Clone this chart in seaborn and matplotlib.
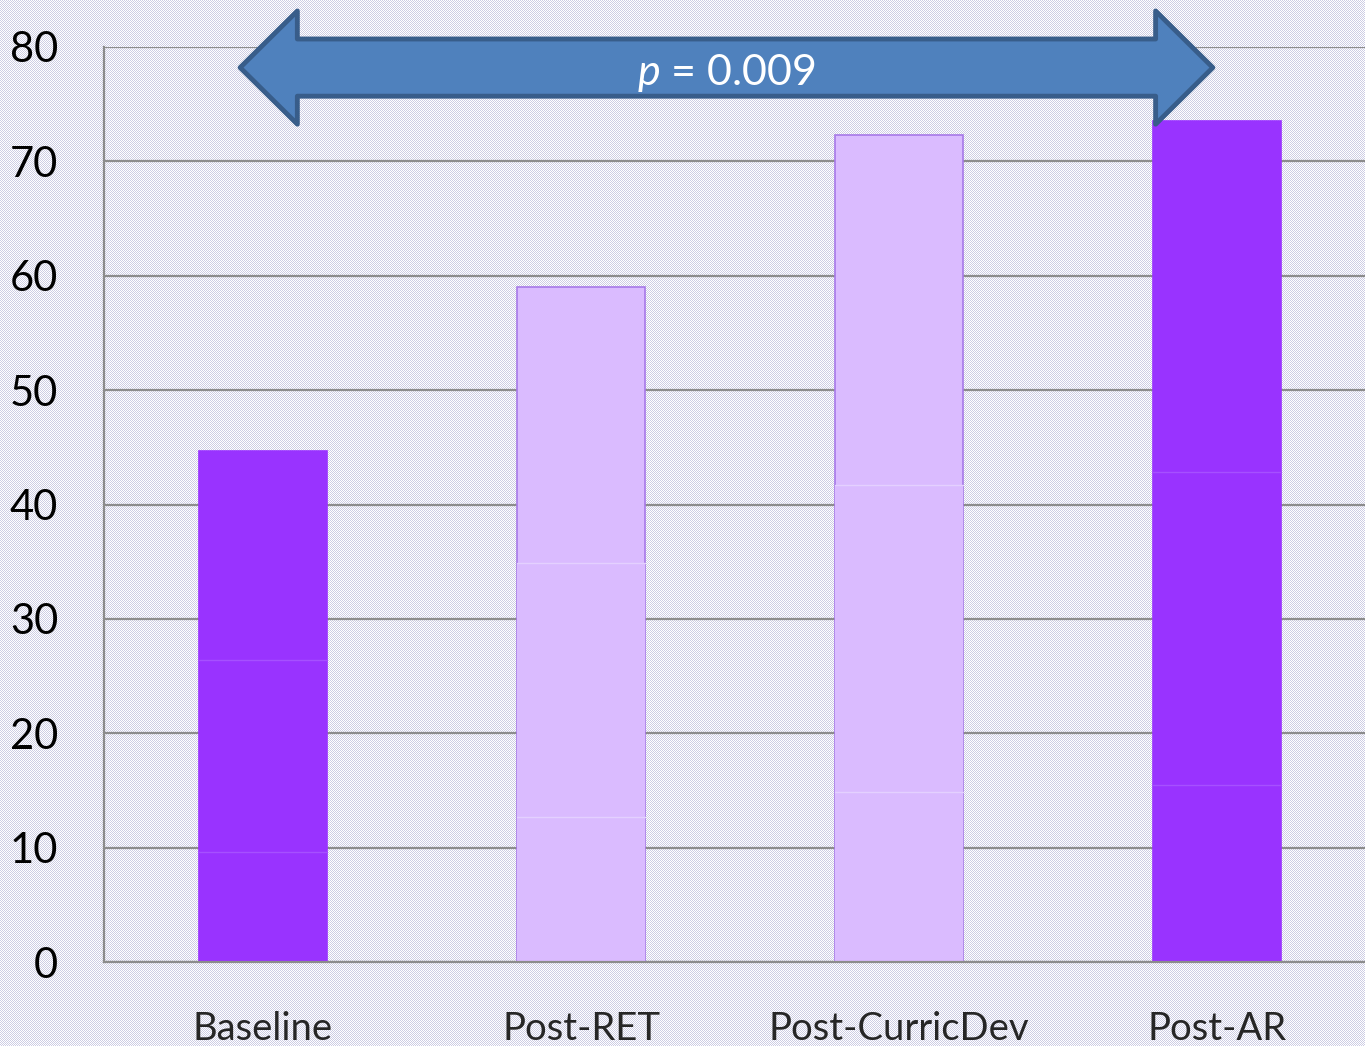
import numpy as np
import matplotlib
matplotlib.use("Agg")
import matplotlib.pyplot as plt
import seaborn as sns
from matplotlib.patches import Polygon

# data
categories = ["Baseline", "Post-RET", "Post-CurricDev", "Post-AR"]
seg_low = [9.6, 12.7, 14.9, 15.5]
seg_mid = [16.8, 22.2, 26.8, 27.3]
seg_top = [18.3, 24.1, 30.6, 30.7]
bar_colors = ["#9933ff", "#dabbff", "#dabbff", "#9933ff"]
edge_colors = ["#9933ff", "#a77ae8", "#a77ae8", "#9933ff"]
inner_line_colors = ["#a650ff", "#e4d0ff", "#e4d0ff", "#a650ff"]
p_text = "$\\mathit{p}$ = 0.009"

cum1 = np.array(seg_low)
cum2 = cum1 + np.array(seg_mid)
cum3 = cum2 + np.array(seg_top)

sns.set_style("white")
plt.rcParams["font.family"] = ["Lato", "DejaVu Sans"]
plt.rcParams["mathtext.fontset"] = "custom"
plt.rcParams["mathtext.it"] = "Lato:italic"
plt.rcParams["mathtext.rm"] = "Lato"

fig = plt.figure(figsize=(13.65, 10.46), dpi=100)

# dithered lavender background
h, w = 1046, 1365
yy, xx = np.mgrid[0:h, 0:w]
checker = ((xx + yy) % 2 == 0)
bg = np.ones((h, w, 3))
bg[checker] = np.array([205, 205, 228]) / 255
fig.figimage(bg, xo=0, yo=0, zorder=-1)

ax = fig.add_axes([104 / 1365, 84 / 1046, 1272 / 1365, 915 / 1046])
ax.set_facecolor("none")

n = len(categories)
for level in [cum3, cum2, cum1]:
    sns.barplot(x=categories, y=level, hue=categories, palette=bar_colors,
                saturation=1, width=0.4, legend=False, ax=ax, linewidth=0,
                zorder=2)

# outer bars get outline, inner levels only show a faint top line
for i, patch in enumerate(ax.patches):
    k = i % n
    if i < n:
        patch.set_edgecolor(edge_colors[k])
        patch.set_linewidth(1.2)
    else:
        patch.set_linewidth(0)
        x0 = patch.get_x()
        ax.plot([x0, x0 + patch.get_width()], [patch.get_height()] * 2,
                color=inner_line_colors[k], lw=1.0, zorder=3)

ax.set_ylim(0, 80)
ax.set_xlim(-0.5, n - 0.5)
ax.set_yticks(range(0, 81, 10))
ax.yaxis.grid(True, color="#8c8c8c", lw=1.6)
ax.set_axisbelow(True)
for s in ["top", "right"]:
    ax.spines[s].set_visible(False)
for s in ["left", "bottom"]:
    ax.spines[s].set_color("#8c8c8c")
    ax.spines[s].set_linewidth(1.6)

ax.tick_params(axis="y", length=11, width=1.6, color="#8c8c8c", pad=22,
               labelsize=30, labelcolor="black")
ax.set_xticks(range(n))
ax.set_xticklabels(categories)
ax.set_xticks(np.arange(-0.5, n, 1.0), minor=True)
ax.tick_params(axis="x", which="major", length=0, pad=35, labelsize=27.5)
ax.tick_params(axis="x", which="minor", length=9, width=1.6, color="#8c8c8c")
ax.set_xlabel("")
ax.set_ylabel("")

# double headed arrow across the top
xl, xr = -0.072, 2.987
head = 0.18
yc, shaft, hh = 78.2, 2.5, 4.95
pts = [(xl, yc), (xl + head, yc + hh), (xl + head, yc + shaft),
       (xr - head, yc + shaft), (xr - head, yc + hh), (xr, yc),
       (xr - head, yc - hh), (xr - head, yc - shaft),
       (xl + head, yc - shaft), (xl + head, yc - hh)]
arrow = Polygon(pts, closed=True, facecolor="#4f81bd", edgecolor="#385d8a",
                lw=3.5, joinstyle="round", clip_on=False, zorder=5)
ax.add_patch(arrow)
ax.text((xl + xr) / 2, yc - 0.45, p_text, color="white", fontsize=31,
        ha="center", va="center", zorder=6)

fig.savefig("out.png", dpi=100)
